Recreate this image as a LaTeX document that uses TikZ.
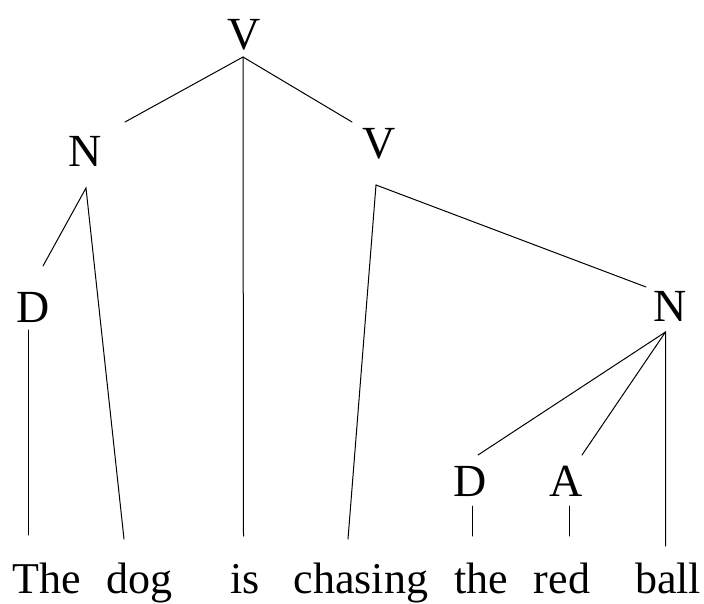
\documentclass[tikz,border=0pt]{standalone}
\usepackage{fontspec}
\setmainfont{Liberation Serif}
\begin{document}
\begin{tikzpicture}[x=1pt,y=-1pt,
  lbl/.style={anchor=base,inner sep=0pt,font=\fontsize{46}{50}\selectfont},
  word/.style={anchor=base,inner sep=0pt,font=\fontsize{44}{48}\selectfont},
  edge/.style={line width=1pt,line cap=round}]
\useasboundingbox (0,0) rectangle (704,604);
% category labels
\node[lbl] (V1) at (244,50) {V};
\node[lbl] (N1) at (85,167) {N};
\node[lbl] (V2) at (379,159) {V};
\node[lbl] (D1) at (33,322) {D};
\node[lbl] (N2) at (670,321) {N};
\node[lbl] (D2) at (470,496) {D};
\node[lbl] (A) at (566,496) {A};
% words
\node[word] (w1) at (47,593) {The};
\node[word] (w2) at (139,593) {dog};
\node[word] (w3) at (245,593) {is};
\node[word] (w4) at (361,593) {chasing};
\node[word] (w5) at (481,593) {the};
\node[word] (w6) at (562,593) {red};
\node[word] (w7) at (668,593) {ball};
% attachment points
\coordinate (v1a) at (243,57);
\coordinate (n1top) at (125,122);
\coordinate (v2top) at (352,122);
\coordinate (isend) at (243.5,536);
\coordinate (n1a) at (86,188);
\coordinate (d1top) at (43,266);
\coordinate (dogend) at (124,539);
\coordinate (d1a) at (28.5,330);
\coordinate (theend) at (28.5,535);
\coordinate (v2a) at (376,185);
\coordinate (chend) at (348,539);
\coordinate (n2top) at (646,287);
\coordinate (n2a) at (665.5,332);
\coordinate (d2top) at (478,455);
\coordinate (atop) at (582,455);
\coordinate (ballend) at (665.5,546);
\coordinate (d2a) at (472.5,506);
\coordinate (the2end) at (472.5,536);
\coordinate (aa) at (569.5,506);
\coordinate (redend) at (569.5,536);
% connectors
\draw[edge] (n1top) -- (v1a) -- (v2top);
\draw[edge] (v1a) -- (isend);
\draw[edge] (d1top) -- (n1a) -- (dogend);
\draw[edge] (d1a) -- (theend);
\draw[edge] (chend) -- (v2a) -- (n2top);
\draw[edge] (d2top) -- (n2a) -- (ballend);
\draw[edge] (n2a) -- (atop);
\draw[edge] (d2a) -- (the2end);
\draw[edge] (aa) -- (redend);
\end{tikzpicture}
\end{document}
